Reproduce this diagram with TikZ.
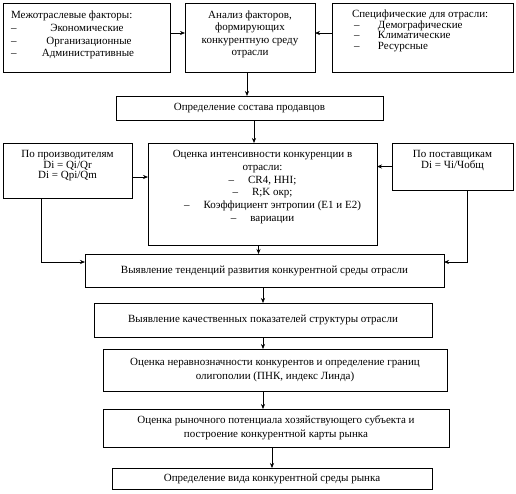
\documentclass[tikz,border=0pt]{standalone}
\usepackage{fontspec}
\setmainfont{Liberation Serif}
\usetikzlibrary{arrows.meta}
\newcommand{\bxt}[4]{\begin{minipage}[c][#2][t]{#1}\vspace*{#3}#4\end{minipage}}
\newcommand{\bxc}[3]{\begin{minipage}[c][#2][c]{#1}\centering #3\end{minipage}}
\newcommand{\dl}[1]{–\hspace{14pt}#1}
\begin{document}
\begin{tikzpicture}[x=1pt,y=-1pt,
  box/.style={draw, line width=0.9pt, inner sep=0pt, outer sep=0pt, anchor=north west,
    font=\fontsize{11}{12.5}\selectfont},
  arr/.style={-{Stealth[length=5pt,width=4pt]}, line width=0.6pt},
  ln/.style={line width=0.6pt}]
\useasboundingbox (0,0) rectangle (516,493);
\fill[white] (0,0) rectangle (516,493);

\node[box] (top1) at (3,3) {\bxt{167pt}{69pt}{8pt}{\raggedright\baselineskip=12.7pt
  \hspace*{8pt}Межотраслевые факторы:\\
  \hspace*{8pt}\makebox[28pt][l]{–}\makebox[96pt][c]{Экономические}\\
  \hspace*{8pt}\makebox[28pt][l]{–}\makebox[100pt][c]{Организационные}\\
  \hspace*{8pt}\makebox[28pt][l]{–}\makebox[98pt][c]{Административные}}};
\node[box] (top2) at (185,3) {\bxt{130pt}{69pt}{7.5pt}{\centering\baselineskip=12.5pt
  Анализ факторов,\\ формирующих\\ конкурентную среду\\ отрасли}};
\node[box] (top3) at (332,3) {\bxt{181pt}{69pt}{7pt}{\raggedright\baselineskip=10.6pt
  \hspace*{20pt}Специфические для отрасли:\\
  \hspace*{22pt}\makebox[24pt][l]{–}Демографические\\
  \hspace*{22pt}\makebox[24pt][l]{–}Климатические\\
  \hspace*{22pt}\makebox[24pt][l]{–}Ресурсные}};

\node[box] (sostav) at (116,96) {\bxc{267pt}{24pt}{Определение состава продавцов}};

\node[box] (prod) at (3,143) {\bxt{129pt}{55pt}{7.5pt}{\centering\baselineskip=10.5pt
  По производителям\\ Di = Qi/Qr\\ Di = Qpi/Qm}};
\node[box] (otsenka) at (148,143) {\bxt{229pt}{102pt}{7.5pt}{\centering\baselineskip=12.7pt
  Оценка интенсивности конкуренции в\\ отрасли:\\ \dl{CR4, HHI;}\\ \dl{R;K окр;}\\
  \hspace*{20pt}\dl{Коэффициент энтропии (E1 и E2)}\\ \dl{вариации}}};
\node[box] (postav) at (392,143) {\bxt{121pt}{47pt}{7.5pt}{\centering\baselineskip=10.5pt
  По поставщикам\\ Di = Чi/Чобщ}};

\node[box] (tend) at (85,254) {\bxc{359pt}{33pt}{Выявление тенденций развития конкурентной среды отрасли}};
\node[box] (kach) at (94,303) {\bxc{338pt}{34pt}{Выявление качественных показателей структуры отрасли\\[4pt]}};
\node[box] (nerav) at (103,349) {\bxc{344pt}{42pt}{\baselineskip=14pt Оценка неравнозначности конкурентов и определение границ\\ олигополии (ПНК, индекс Линда)}};
\node[box] (rynoch) at (103,409) {\bxc{346pt}{38pt}{\baselineskip=14pt Оценка рыночного потенциала хозяйствующего субъекта и\\ построение конкурентной карты рынка}};
\node[box] (vid) at (112,468) {\bxc{320pt}{21pt}{Определение вида конкурентной среды рынка}};

\draw[arr] ([yshift=4.5pt]top1.east) -- ([yshift=4.5pt]top2.west);
\draw[arr] ([yshift=4.5pt]top3.west) -- ([yshift=4.5pt]top2.east);
\draw[arr] ([xshift=-3pt]top2.south) -- ([xshift=-3pt]top2.south |- sostav.north);
\draw[arr] ([xshift=4.5pt]sostav.south) -- ([xshift=4.5pt]sostav.south |- otsenka.north);
\draw[arr] ([yshift=-6.5pt]prod.east) -- ([yshift=-6.5pt]prod.east -| otsenka.west);
\draw[arr] (postav.west) -- (postav.west -| otsenka.east);
\draw[arr] ([xshift=-26.5pt]prod.south) |- ([yshift=8.5pt]tend.west);
\draw[arr] ([xshift=14.5pt]postav.south) |- ([yshift=8.5pt]tend.east);
\draw[arr] ([xshift=-4pt]otsenka.south) -- ([xshift=-4pt]otsenka.south |- tend.north);
\draw[arr] (tend.south -| kach.north) -- (kach.north);
\draw[arr] (kach.south) -- (kach.south |- nerav.north);
\draw[arr] ([xshift=-12pt]nerav.south) -- ([xshift=-12pt]nerav.south |- rynoch.north);
\draw[arr] (vid.north |- rynoch.south) -- (vid.north);
\end{tikzpicture}
\end{document}
